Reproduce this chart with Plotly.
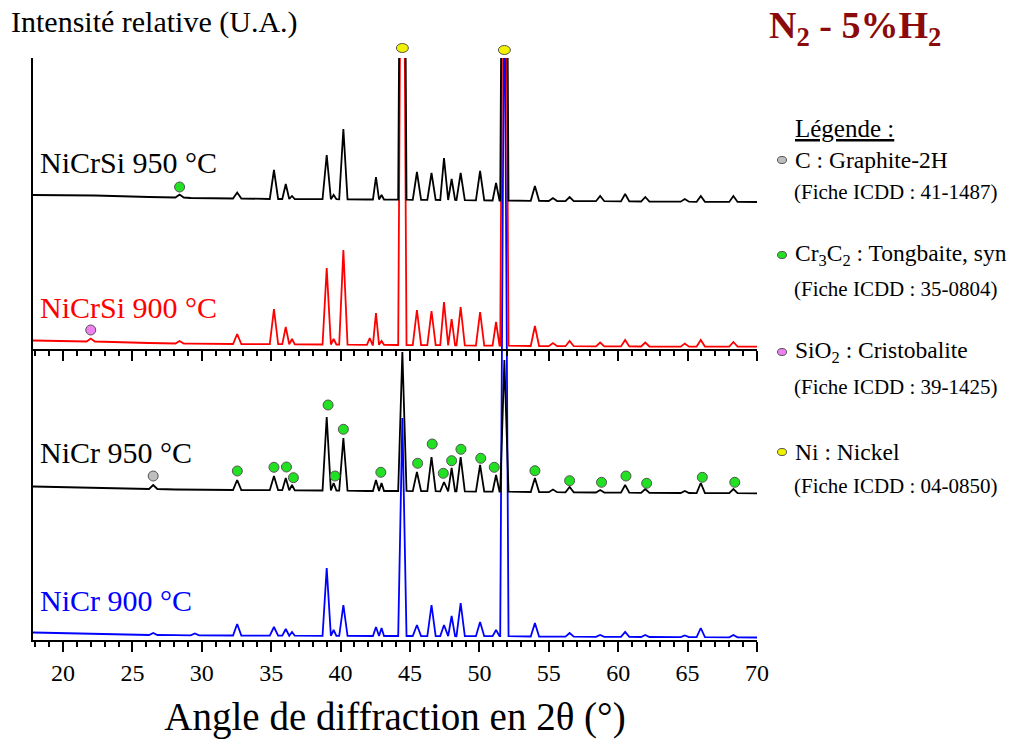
import plotly.graph_objects as go

# ---------------- data ----------------
X_RANGE = [17.84, 70.0]

PEAK_POS = [22.0, 26.5, 28.4, 29.5, 32.55, 35.2, 36.05, 36.5, 39.0, 39.5, 40.2, 42.1,
            42.55, 42.95, 44.45, 45.5, 46.55, 47.45, 48.0, 48.65, 50.05, 51.2, 51.8,
            54.0, 55.3, 56.5, 58.7, 60.5, 61.95, 64.8, 65.95, 68.3]
PEAK_HALF_WIDTH = [0.3, 0.3, 0.3, 0.3, 0.3, 0.3, 0.25, 0.2, 0.3, 0.2, 0.3, 0.2,
                   0.22, 0.18, 0.3, 0.3, 0.3, 0.27, 0.25, 0.3, 0.3, 0.25, 0.3,
                   0.3, 0.3, 0.3, 0.3, 0.3, 0.3, 0.3, 0.3, 0.3]

# NiCr 900 °C (blue)
NICR900_START, NICR900_END = 7.5, 2.5
NICR900_BASE = [6.5, 5, 4.8, 4.6, 4.5, 4.3, 4.3, 4.3, 4.2, 4.2, 4.1, 4, 4, 4, 4, 4, 3.9, 3.9,
                3.9, 3.8, 3.8, 3.8, 3.8, 3.5, 3.4, 3.3, 3.2, 3.1, 3, 2.8, 2.8, 2.6]
NICR900_TOP = [6.5, 7, 4.8, 6.5, 16, 13, 11, 8, 72, 10, 35, 4, 13, 12, 222, 15, 35, 15,
               24, 37, 18, 10, 700, 17, 4, 7, 5, 8, 5, 4.5, 12, 5]

# NiCr 950 °C (black)
NICR950_START, NICR950_END = 9.5, 2.7
NICR950_BASE = [8.5, 7, 6.5, 6.2, 6, 5.8, 5.8, 5.7, 5.5, 5.5, 5.4, 5, 5, 5, 5, 4.8, 4.8, 4.7,
                4.7, 4.6, 4.4, 4.3, 4.3, 4, 3.8, 3.7, 3.5, 3.3, 3.2, 3, 2.9, 2.8]
NICR950_TOP = [8.5, 11, 6.5, 6.2, 16, 20, 18, 11, 79, 13, 58, 5, 16, 13, 144, 24, 39, 14,
               28, 39, 31, 21, 136, 18, 6.5, 9, 6, 11, 7, 5, 13, 7]

# NiCrSi 900 °C (red)
NICRSI900_START, NICRSI900_END = 8.5, 2.3
NICRSI900_BASE = [7.5, 6, 5.5, 5.3, 5, 4.8, 4.8, 4.7, 4.5, 4.5, 4.4, 4.2, 4.2, 4.2, 4, 3.9,
                  3.8, 3.8, 3.7, 3.6, 3.4, 3.3, 3.3, 3, 2.9, 2.8, 2.7, 2.6, 2.5, 2.4, 2.4, 2.3]
NICRSI900_TOP = [10.5, 6, 8, 5.3, 15, 40, 22, 10, 81, 10, 99, 11, 36, 8, 700, 39,
                 38, 47, 30, 42, 37, 27, 700, 23, 6, 8, 6.5, 9, 6.5, 5.5, 9, 7]

# NiCrSi 950 °C (black)
NICRSI950_START, NICRSI950_END = 9.0, 2.0
NICRSI950_BASE = [8.5, 7, 6.5, 6, 5.5, 5, 5, 5, 4.8, 4.8, 4.7, 4.5, 4.5, 4.5, 4.3, 4.2,
                  4.1, 4, 4, 3.9, 3.7, 3.5, 3.5, 3.2, 3, 2.9, 2.8, 2.6, 2.5, 2.3, 2.2, 2.1]
NICRSI950_TOP = [8.5, 7, 9.5, 6, 11.5, 34, 20, 8, 49, 9, 75, 4.5, 27, 9, 700, 32,
                 31, 46, 25, 31, 33, 21, 700, 18, 6, 7, 8, 10, 7, 5, 8, 8]

SAMPLE_NAMES = ["NiCr 900 °C", "NiCr 950 °C", "NiCrSi 900 °C", "NiCrSi 950 °C"]
OFFSETS = [0, 144, 291, 436]

# phase markers (absolute stacked units)
NI_X = [44.45, 51.8]
NI_Y = [592, 590]
CR3C2_X = [28.4, 32.56, 35.2, 36.1, 36.6, 39.1, 39.6, 40.2, 42.9, 45.55, 46.6, 47.4, 48.0,
           48.67, 50.1, 51.07, 54.0, 56.5, 58.8, 60.56, 62.05, 66.06, 68.4]
CR3C2_Y = [453, 169, 172.7, 173, 162.3, 235, 164, 210.7, 167.7, 176.7, 196, 166.7, 179.3,
           190.7, 181.7, 172.7, 169.3, 159.3, 157.7, 164, 156.7, 162.7, 157.7]
SIO2_X = [22.0]
SIO2_Y = [310]
C_X = [26.5]
C_Y = [164]

LEGEND_PHASES = ["C : Graphite-2H", "Cr<sub>3</sub>C<sub>2</sub> : Tongbaite, syn",
                 "SiO<sub>2</sub> : Cristobalite", "Ni : Nickel"]
LEGEND_FICHES = ["(Fiche ICDD : 41-1487)", "(Fiche ICDD : 35-0804)",
                 "(Fiche ICDD : 39-1425)", "(Fiche ICDD : 04-0850)"]
LEGEND_COLORS = ["#BEBEBE", "#22E022", "#F080F0", "#F2F200"]

X_TICKS = [20, 25, 30, 35, 40, 45, 50, 55, 60, 65, 70]

# ---------------- figure ----------------
FONT = "Liberation Serif"
W, H = 1021, 745
ML, MR, MT, MB = 33, 264, 58, 105
PW, PH = W - ML - MR, H - MT - MB


def px2paper(px, py):
    return (px - ML) / PW, (H - MB - py) / PH


def build(start, end, base, top, offset):
    xs, ys = [X_RANGE[0]], [start + offset]
    for p, w, b, t in zip(PEAK_POS, PEAK_HALF_WIDTH, base, top):
        xs += [p - w, p, p + w]
        ys += [b + offset, t + offset, b + offset]
    xs.append(X_RANGE[1])
    ys.append(end + offset)
    return xs, ys


fig = go.Figure()

patterns = [
    (NICR900_START, NICR900_END, NICR900_BASE, NICR900_TOP, OFFSETS[0], "#0000FF"),
    (NICR950_START, NICR950_END, NICR950_BASE, NICR950_TOP, OFFSETS[1], "#000000"),
    (NICRSI900_START, NICRSI900_END, NICRSI900_BASE, NICRSI900_TOP, OFFSETS[2], "#FF0000"),
    (NICRSI950_START, NICRSI950_END, NICRSI950_BASE, NICRSI950_TOP, OFFSETS[3], "#000000"),
]
for (s, e, b, t, off, col), name in zip(patterns, SAMPLE_NAMES):
    xs, ys = build(s, e, b, t, off)
    fig.add_trace(go.Scatter(x=xs, y=ys, mode="lines", name=name, xaxis="x", yaxis="y",
                             line=dict(color=col, width=1.8), hoverinfo="skip"))

mk_line = dict(color="#555555", width=1)
for xs, ys, col in [(CR3C2_X, CR3C2_Y, LEGEND_COLORS[1]), (SIO2_X, SIO2_Y, LEGEND_COLORS[2]),
                    (C_X, C_Y, LEGEND_COLORS[0])]:
    fig.add_trace(go.Scatter(x=xs, y=ys, mode="markers", cliponaxis=False,
                             marker=dict(symbol="circle", size=10, color=col, line=mk_line),
                             hoverinfo="skip"))

# dummy trace carrying the middle (upper panel) x axis
fig.add_trace(go.Scatter(x=[None], y=[None], xaxis="x2", yaxis="y2", mode="lines",
                         hoverinfo="skip"))

shapes = []
# Ni markers sit above the plotting area -> ellipse shapes anchored at data x
for xv, yv in zip(NI_X, NI_Y):
    shapes.append(dict(type="circle", xref="x", yref="paper",
                       xsizemode="pixel", ysizemode="pixel",
                       xanchor=xv, yanchor=yv / PH, x0=-6, x1=6, y0=-4.5, y1=4.5,
                       fillcolor=LEGEND_COLORS[3], line=mk_line, layer="above"))
# legend key markers
for col, py in zip(LEGEND_COLORS, (160, 255, 352, 452)):
    xp, yp = px2paper(782, py)
    shapes.append(dict(type="circle", xref="paper", yref="paper",
                       xsizemode="pixel", ysizemode="pixel",
                       xanchor=xp, yanchor=yp, x0=-4.5, x1=4.5, y0=-3.5, y1=3.5,
                       fillcolor=col, line=mk_line, layer="above"))

annotations = []


def add_text(text, px, py, size, color="black", xanchor="left"):
    xp, yp = px2paper(px, py)
    annotations.append(dict(text=text, x=xp, y=yp, xref="paper", yref="paper",
                            xanchor=xanchor, yanchor="middle", showarrow=False,
                            font=dict(family=FONT, size=size, color=color)))


add_text("Intensité relative (U.A.)", 9, 22, 30)
add_text("<b>N<sub>2</sub> - 5%H<sub>2</sub></b>", 767, 28, 38, color="#8B0A0A")
add_text(SAMPLE_NAMES[3], 38, 162, 30)
add_text(SAMPLE_NAMES[2], 38, 307, 30, color="#FF0000")
add_text(SAMPLE_NAMES[1], 38, 452, 30)
add_text(SAMPLE_NAMES[0], 38, 600, 30, color="#0000FF")

add_text("<u>Légende :</u>", 793, 128, 25)
for i, (ph, fi) in enumerate(zip(LEGEND_PHASES, LEGEND_FICHES)):
    py_ph = [160, 255, 352, 452][i]
    py_fi = [192, 289, 387, 486][i]
    add_text(ph, 793, py_ph, 23.5)
    add_text(fi, 792, py_fi, 21)

axis_common = dict(range=X_RANGE, showline=True, linewidth=2, linecolor="black",
                   ticks="outside", ticklen=10, tickwidth=2, tickcolor="black",
                   tickvals=X_TICKS, showgrid=False, zeroline=False,
                   minor=dict(dtick=1, tick0=0, ticks="outside", ticklen=5, tickwidth=1.5,
                              tickcolor="black", showgrid=False))

mid = 291 / PH

fig.update_layout(
    width=W, height=H,
    margin=dict(l=ML, r=MR, t=MT, b=MB),
    paper_bgcolor="white", plot_bgcolor="rgba(0,0,0,0)",
    showlegend=False, hovermode=False,
    font=dict(family=FONT, color="black"),
    xaxis=dict(**axis_common, anchor="y", ticklabelstandoff=0,
               tickfont=dict(family=FONT, size=24, color="black"),
               title=dict(text="Angle de diffraction en 2θ (°)",
                          font=dict(family=FONT, size=39, color="black"), standoff=18)),
    xaxis2=dict(**axis_common, anchor="y2", showticklabels=False, side="bottom"),
    yaxis=dict(range=[0, PH], showline=True, linewidth=2, linecolor="black",
               ticks="", showticklabels=False, showgrid=False, zeroline=False,
               domain=[0, 1]),
    yaxis2=dict(domain=[mid, mid + 0.002], visible=False, range=[0, 1], anchor="x2"),
    shapes=shapes,
    annotations=annotations,
)

fig.write_html("out.html", config={"displayModeBar": False},
               post_script="document.body.style.margin='0px';")
